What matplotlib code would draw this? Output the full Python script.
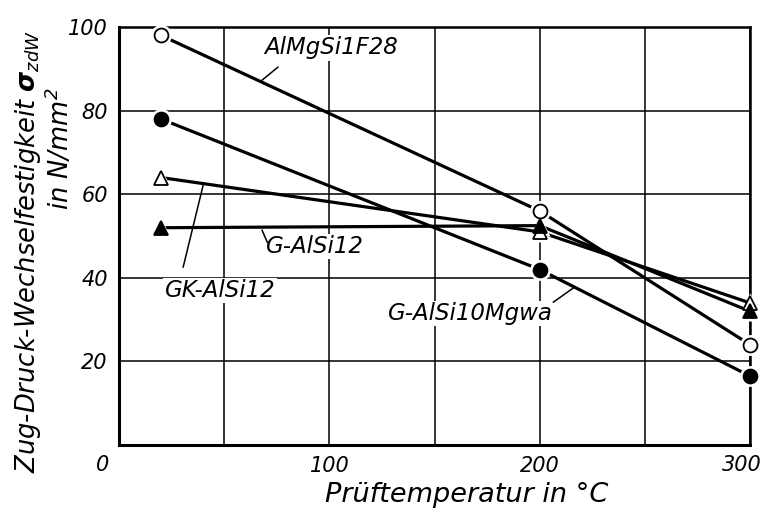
import matplotlib
matplotlib.use("Agg")
import matplotlib.pyplot as plt

# Prüftemperatur in °C
temp = [20, 200, 300]

# Zug-Druck-Wechselfestigkeit in N/mm^2
almgsi1f28 = [98, 56, 24]
g_alsi10mgwa = [78, 42, 16.5]
gk_alsi12 = [64, 51, 34]
g_alsi12 = [52, 52.5, 32]

plt.rcParams['font.family'] = 'DejaVu Sans'
plt.rcParams['font.style'] = 'italic'
plt.rcParams['mathtext.fontset'] = 'dejavusans'

W, H = 764, 511
fig = plt.figure(figsize=(W / 100, H / 100), dpi=100)
ax = fig.add_axes([0.1558, 0.129, 0.826, 0.818])

ax.set_xlim(0, 300)
ax.set_ylim(0, 100)
ax.set_xticks([50, 100, 150, 200, 250, 300])
ax.set_xticklabels(['', '100', '', '200', '', ''])
ax.set_yticks([20, 40, 60, 80, 100])
ax.tick_params(length=0, labelsize=15, pad=8)
ax.grid(True, color='black', lw=1.1)
for s in ax.spines.values():
    s.set_linewidth(1.8)
ax.spines['left'].set_linewidth(2.2)
ax.spines['bottom'].set_linewidth(2.2)

series = [
    (almgsi1f28, 'o', 'white'),
    (g_alsi10mgwa, 'o', 'black'),
    (gk_alsi12, '^', 'white'),
    (g_alsi12, '^', 'black'),
]
for y, m, fc in series:
    ax.plot(temp, y, color='black', lw=2.3, zorder=3, clip_on=False)
for y, m, fc in series:
    ax.plot(temp, y, ls='none', marker=m, ms=15, mfc='white', mec='none',
            zorder=4, clip_on=False)
for y, m, fc in series:
    ax.plot(temp, y, ls='none', marker=m, ms=10, mfc=fc, mec='black',
            mew=1.3, zorder=5, clip_on=False)

box = dict(facecolor='white', edgecolor='none', pad=1)
fs = 16.5
ax.text(101, 95, 'AlMgSi1F28', fontsize=fs, ha='center', va='center', bbox=box, zorder=2)
ax.plot([68, 75.5], [87.3, 90.4], color='black', lw=1.1, zorder=2)
ax.text(93, 47.5, 'G-AlSi12', fontsize=fs, ha='center', va='center', bbox=box, zorder=2)
ax.plot([68, 70.5], [51.4, 48.5], color='black', lw=1.1, zorder=2)
ax.text(48, 37, 'GK-AlSi12', fontsize=fs, ha='center', va='center', bbox=box, zorder=2)
ax.plot([30.5, 40], [42.6, 62.2], color='black', lw=1.1, zorder=2)
ax.text(167, 31.5, 'G-AlSi10Mgwa', fontsize=fs, ha='center', va='center', bbox=box, zorder=2)
ax.plot([206.5, 216], [34.2, 37.6], color='black', lw=1.1, zorder=2)

ax.text(-8, -4.8, '0', fontsize=15, ha='center', va='center')
ax.text(296, -4.8, '300', fontsize=15, ha='center', va='center')

# axis titles
fig.text(467 / W, 1 - 495 / H, 'Prüftemperatur in °C', fontsize=19.5,
         ha='center', va='center')
fig.text(28 / W, 1 - 251 / H, 'Zug-Druck-Wechselfestigkeit $\\mathbf{\\sigma}_{zdW}$',
         fontsize=18.5, rotation=90, ha='center', va='center')
fig.text(60 / W, 1 - 149 / H, 'in N/mm$^2$', fontsize=18.5, rotation=90,
         ha='center', va='center')

fig.savefig('out.png', dpi=100)
